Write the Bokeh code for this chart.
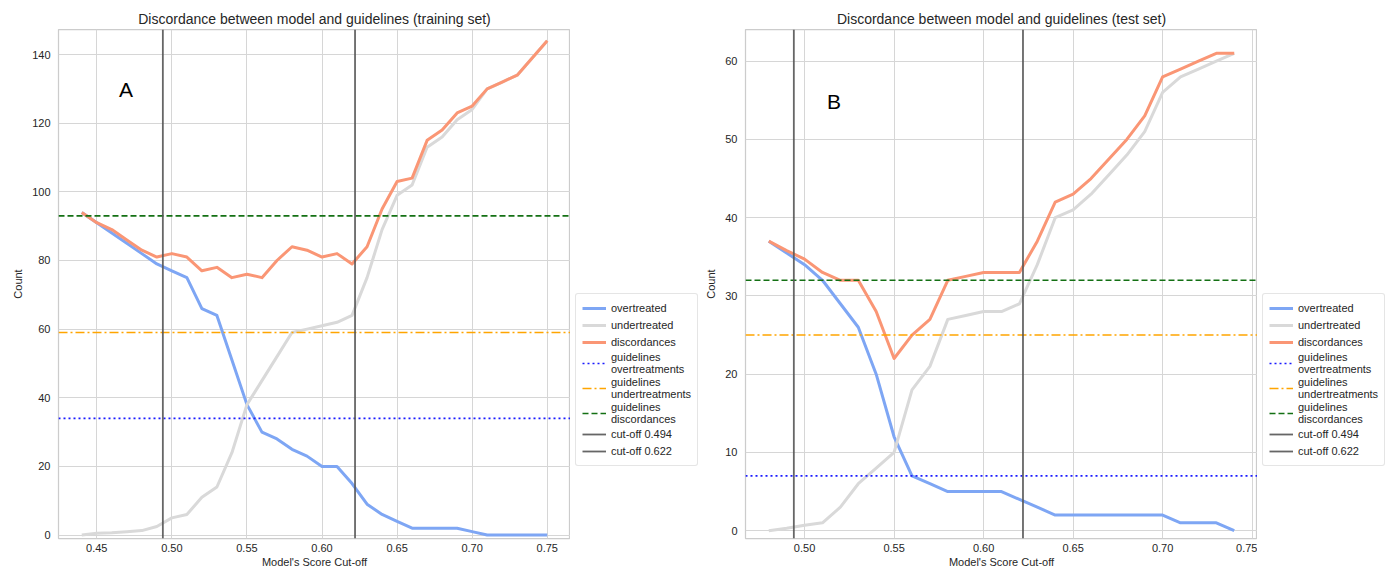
from bokeh.plotting import figure
from bokeh.models import Range1d, Legend, LegendItem, Label, FixedTicker, NumeralTickFormatter
from bokeh.layouts import row
from bokeh.embed import file_html
from bokeh.resources import INLINE

FONT = "Liberation Sans"
TXT = "#262626"

# ---------------- data: training set ----------------
train_cut = [0.44, 0.45, 0.46, 0.47, 0.48, 0.49, 0.50, 0.51, 0.52, 0.53, 0.54, 0.55,
             0.56, 0.57, 0.58, 0.59, 0.60, 0.61, 0.62, 0.63, 0.64, 0.65, 0.66, 0.67,
             0.68, 0.69, 0.70, 0.71, 0.72, 0.73, 0.74, 0.75]
train_over = [94, 91, 88, 85, 82, 79, 77, 75, 66, 64, 51, 38,
              30, 28, 25, 23, 20, 20, 15, 9, 6, 4, 2, 2,
              2, 2, 1, 0, 0, 0, 0, 0]
train_under = [0, 0.5, 0.7, 1, 1.3, 2.5, 5, 6, 11, 14, 24, 38,
               45, 52, 59, 60, 61, 62, 64, 75, 89, 99, 102, 113,
               116, 121, 124, 130, 132, 134, 139, 144]
train_disc = [94, 91, 89, 86, 83, 81, 82, 81, 77, 78, 75, 76,
              75, 80, 84, 83, 81, 82, 79, 84, 95, 103, 104, 115,
              118, 123, 125, 130, 132, 134, 139, 144]
train_guide_over = 34
train_guide_under = 59
train_guide_disc = 93

# ---------------- data: test set ----------------
test_cut = [0.48, 0.49, 0.50, 0.51, 0.52, 0.53, 0.54, 0.55, 0.56, 0.57, 0.58, 0.59,
            0.60, 0.61, 0.62, 0.63, 0.64, 0.65, 0.66, 0.67, 0.68, 0.69, 0.70, 0.71,
            0.72, 0.73, 0.74]
test_over = [37, 35.5, 34, 32, 29, 26, 20, 12, 7, 6, 5, 5,
             5, 5, 4, 3, 2, 2, 2, 2, 2, 2, 2, 1,
             1, 1, 0]
test_under = [0, 0.3, 0.7, 1, 3, 6, 8, 10, 18, 21, 27, 27.5,
              28, 28, 29, 34, 40, 41, 43, 45.5, 48, 51, 56, 58,
              59, 60, 61]
test_disc = [37, 35.8, 34.7, 33, 32, 32, 28, 22, 25, 27, 32, 32.5,
             33, 33, 33, 37, 42, 43, 45, 47.5, 50, 53, 58, 59,
             60, 61, 61]
test_guide_over = 7
test_guide_under = 25
test_guide_disc = 32

cutoffs = [0.494, 0.622]

train_xticks = [0.45, 0.50, 0.55, 0.60, 0.65, 0.70, 0.75]
train_yticks = [0, 20, 40, 60, 80, 100, 120, 140]
test_xticks = [0.50, 0.55, 0.60, 0.65, 0.70, 0.75]
test_yticks = [0, 10, 20, 30, 40, 50, 60]

legend_labels = ["overtreated", "undertreated", "discordances",
                 "guidelines\novertreatments", "guidelines\nundertreatments",
                 "guidelines\ndiscordances",
                 "cut-off %.3f" % cutoffs[0], "cut-off %.3f" % cutoffs[1]]

H = 570
MB_TOP = 29
MB_BOTTOM = 31

# series styles (colour, width, dash, alpha)
STYLES = [
    dict(line_color="#7ea6f4", line_width=3, line_dash="solid", line_alpha=1.0),
    dict(line_color="#d9d9d9", line_width=3, line_dash="solid", line_alpha=1.0),
    dict(line_color="#fa9675", line_width=3, line_dash="solid", line_alpha=1.0),
    dict(line_color="#1a1aff", line_width=1.6, line_dash="2 3", line_alpha=1.0),
    dict(line_color="#ffa500", line_width=1.6, line_dash="9 3 2 3", line_alpha=1.0),
    dict(line_color="#147014", line_width=1.6, line_dash="6 3", line_alpha=1.0),
    dict(line_color="#555555", line_width=1.8, line_dash="solid", line_alpha=0.9),
    dict(line_color="#555555", line_width=1.8, line_dash="solid", line_alpha=0.9),
]


def make_panel(title, xs, over, under, disc, g_over, g_under, g_disc,
               xticks, yticks, y_end, letter, letter_pos, width, mb_left):
    span = max(xs) - min(xs)
    x0, x1 = min(xs) - 0.05 * span, max(xs) + 0.05 * span
    y0, y1 = -1, y_end
    p = figure(width=width, height=H, output_backend="svg", toolbar_location=None,
               x_range=Range1d(x0, x1), y_range=Range1d(y0, y1),
               min_border_left=mb_left, min_border_right=0,
               min_border_top=MB_TOP, min_border_bottom=MB_BOTTOM,
               background_fill_color="white", border_fill_color="white")
    p.title.text = title
    p.title.align = "center"
    p.title.text_font = FONT
    p.title.text_font_size = "14px"
    p.title.text_font_style = "normal"
    p.title.text_color = TXT
    p.title.standoff = 5

    p.outline_line_color = "#cccccc"
    p.outline_line_width = 1.25

    p.xaxis.ticker = FixedTicker(ticks=xticks)
    p.yaxis.ticker = FixedTicker(ticks=yticks)
    p.xaxis.formatter = NumeralTickFormatter(format="0.00")
    p.xgrid.ticker = FixedTicker(ticks=xticks)
    p.ygrid.ticker = FixedTicker(ticks=yticks)
    for g in (p.xgrid, p.ygrid):
        g.grid_line_color = "#d6d6d6"
        g.grid_line_width = 1
    for ax in (p.xaxis, p.yaxis):
        ax.axis_line_color = None
        ax.major_tick_line_color = None
        ax.minor_tick_line_color = None
        ax.major_tick_out = 0
        ax.major_tick_in = 0
        ax.minor_tick_out = 0
        ax.minor_tick_in = 0
        ax.major_label_text_font = FONT
        ax.major_label_text_font_size = "11px"
        ax.major_label_text_color = TXT
        ax.axis_label_text_font = FONT
        ax.axis_label_text_font_size = "11px"
        ax.axis_label_text_font_style = "normal"
        ax.axis_label_text_color = TXT
    p.xaxis.major_label_standoff = 5
    p.xaxis.axis_label_standoff = 1
    p.yaxis.major_label_standoff = 8
    p.yaxis.axis_label_standoff = 5
    p.xaxis.axis_label = "Model's Score Cut-off"
    p.yaxis.axis_label = "Count"

    p.line(xs, over, line_join="round", **STYLES[0])
    p.line(xs, under, line_join="round", **STYLES[1])
    p.line(xs, disc, line_join="round", **STYLES[2])
    p.line([x0, x1], [g_over, g_over], **STYLES[3])
    p.line([x0, x1], [g_under, g_under], **STYLES[4])
    p.line([x0, x1], [g_disc, g_disc], **STYLES[5])
    p.line([cutoffs[0], cutoffs[0]], [y0, y1], **STYLES[6])
    p.line([cutoffs[1], cutoffs[1]], [y0, y1], **STYLES[7])

    lab = Label(x=letter_pos[0], y=letter_pos[1], text=letter, text_font=FONT,
                text_font_size="21px", text_color="black", text_align="left",
                text_baseline="alphabetic")
    p.add_layout(lab)
    return p


def make_legend(width):
    q = figure(width=width, height=H, output_backend="svg", toolbar_location=None,
               x_range=Range1d(0, 1), y_range=Range1d(0, 1),
               x_axis_type=None, y_axis_type=None, min_border=0,
               background_fill_color="white", border_fill_color="white")
    q.grid.visible = False
    q.outline_line_color = None
    items = []
    for lbl, st in zip(legend_labels, STYLES):
        # one-point helper line (draws nothing) that only carries the legend swatch
        r = q.line([-1], [-1], **st)
        items.append(LegendItem(label=lbl, renderers=[r]))
    leg = Legend(items=items, location=(5, 72))
    leg.label_text_font = FONT
    leg.label_text_font_size = "11px"
    leg.label_text_color = TXT
    leg.label_text_line_height = 1.2
    leg.glyph_width = 24
    leg.glyph_height = 16
    leg.label_height = 16
    leg.label_standoff = 5
    leg.spacing = 1
    leg.padding = 6
    leg.margin = 0
    leg.border_line_color = "#cccccc"
    leg.border_line_width = 1
    leg.background_fill_color = "white"
    leg.background_fill_alpha = 1.0
    if "border_radius" in Legend.properties():
        leg.border_radius = 3
    q.add_layout(leg, "center")
    return q


p1 = make_panel("Discordance between model and guidelines (training set)",
                train_cut, train_over, train_under, train_disc,
                train_guide_over, train_guide_under, train_guide_disc,
                train_xticks, train_yticks, 147.3, "A", (0.4648, 129.8),
                570, 58)
l1 = make_legend(130)
p2 = make_panel("Discordance between model and guidelines (test set)",
                test_cut, test_over, test_under, test_disc,
                test_guide_over, test_guide_under, test_guide_disc,
                test_xticks, test_yticks, 64.05, "B", (0.5125, 54.8),
                557, 45)
l2 = make_legend(129)

layout = row(p1, l1, p2, l2)
open("out.html", "w").write(file_html(layout, INLINE))
